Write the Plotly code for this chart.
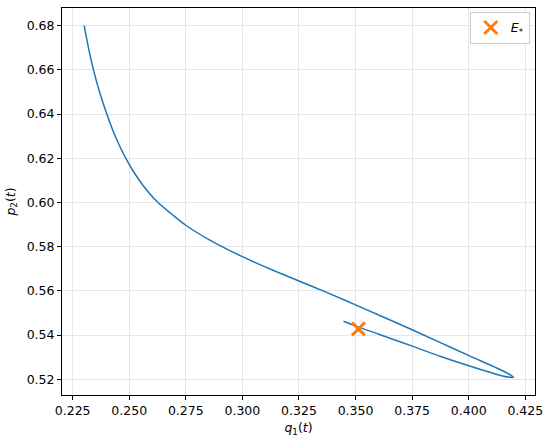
import plotly.graph_objects as go

# Trajectory (q1, p2)
q1 = [0.2301, 0.2320, 0.2342, 0.2369, 0.2401, 0.2440, 0.2485, 0.2525, 0.2563,
      0.2624, 0.2687, 0.2750, 0.2856, 0.3000, 0.3125, 0.3250, 0.3375, 0.3500,
      0.3625, 0.3750, 0.3875, 0.4004, 0.4118, 0.4170, 0.4198,
      0.4180, 0.4150, 0.4118, 0.4004, 0.3880, 0.3751, 0.3606, 0.3520, 0.3447]
p2 = [0.6800, 0.6700, 0.6600, 0.6500, 0.6400, 0.6295, 0.6200, 0.6130, 0.6075,
      0.6003, 0.5948, 0.5897, 0.5830, 0.5755, 0.5698, 0.5645, 0.5592, 0.5537,
      0.5481, 0.5424, 0.5366, 0.5306, 0.5254, 0.5228, 0.5209,
      0.5209, 0.5215, 0.5224, 0.5260, 0.5302, 0.5350, 0.5403, 0.5434, 0.5463]

# Equilibrium point
eq_q = [0.3513]
eq_p = [0.5428]

x_ticks = [0.225, 0.250, 0.275, 0.300, 0.325, 0.350, 0.375, 0.400, 0.425]
y_ticks = [0.52, 0.54, 0.56, 0.58, 0.60, 0.62, 0.64, 0.66, 0.68]

fig = go.Figure()
fig.add_trace(go.Scatter(
    x=q1, y=p2, mode="lines",
    line=dict(color="#1f77b4", width=1.5, shape="spline", smoothing=1.0),
    showlegend=False, hoverinfo="skip"))
fig.add_trace(go.Scatter(
    x=eq_q, y=eq_p, mode="markers", name="<i>E</i><sub>*</sub>",
    marker=dict(symbol="x-thin", size=13, line=dict(color="#ff7f0e", width=3),
                color="#ff7f0e")))

axis_common = dict(
    showline=True, linecolor="black", linewidth=1, mirror=True,
    ticks="outside", ticklen=4, tickcolor="black", tickwidth=1,
    showgrid=True, gridcolor="#e6e6e6", gridwidth=1, zeroline=False,
    tickfont=dict(family="DejaVu Sans", size=12.5, color="black"),
)

fig.update_layout(
    width=550, height=441,
    margin=dict(l=62, r=13, t=7, b=46),
    plot_bgcolor="white", paper_bgcolor="white",
    font=dict(family="DejaVu Sans", size=12.5, color="black"),
    xaxis=dict(range=[0.2203, 0.4293], tickvals=x_ticks,
               ticktext=[f"{v:.3f}" for v in x_ticks],
               title=dict(text="<i>q</i><sub>1</sub>(<i>t</i>)", standoff=6,
                          font=dict(size=12.5)),
               **axis_common),
    yaxis=dict(range=[0.5129, 0.6880], tickvals=y_ticks,
               ticktext=[f"{v:.2f}" for v in y_ticks],
               title=dict(text="<i>p</i><sub>2</sub>(<i>t</i>)", standoff=8,
                          font=dict(size=12.5)),
               **axis_common),
    legend=dict(x=0.989, y=0.99, xanchor="right", yanchor="top",
                bgcolor="rgba(255,255,255,0.8)", bordercolor="#cccccc",
                borderwidth=1, font=dict(size=12.5)),
)

fig.write_html("out.html", config={"displayModeBar": False},
               post_script="document.body.style.margin='0';")
